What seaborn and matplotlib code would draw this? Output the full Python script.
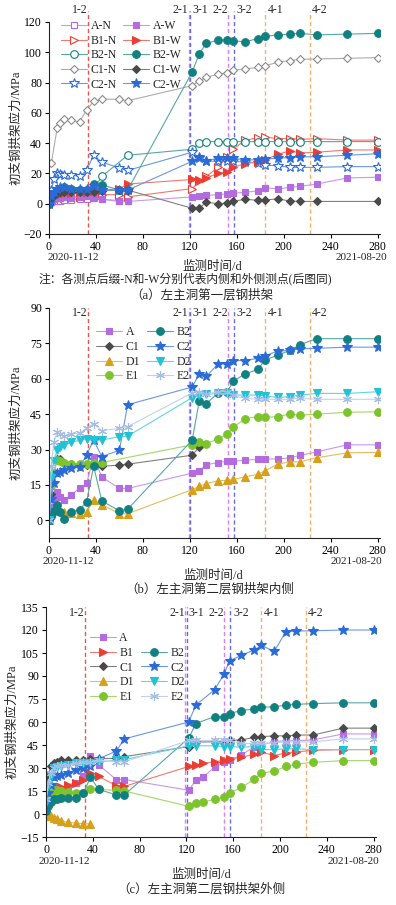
import numpy as np
import pandas as pd
import matplotlib
matplotlib.use('Agg')
import matplotlib.pyplot as plt
import seaborn as sns
from matplotlib.lines import Line2D
from matplotlib.colors import to_rgb

nan = np.nan

# monitoring days (d), shared by all series
days = [0, 2, 4, 7, 9, 13, 19, 26, 32, 38, 45, 60, 67,
        122, 128, 134, 144, 152, 157, 167, 178, 184, 195, 205, 214, 228, 254, 280]

# (a) first layer, -N inner / -W outer
p1_a_n = [0, 1, 1.5, 2, 2, 2.5, 2.5, 3, 3, 3.5, 3, 2, 2] + [nan] * 15
p1_a_w = [0, 2, 3, 4, 4, 4.5, 4, 4.5, 5, 4.5, 3, 1.5, 1.5,
          4.5, 5, 5.5, 6, 6.5, 7, 7.5, 8.5, 10.5, 9.8, 10.8, 11.5, 13, 17, 17.5]
p1_b1_n = [0, 1, 2, 3, 3.5, 4, 4.5, 4.5, 5, 5.5, 6, 6, 4.5,
           10, 15, 18, 24, 31, 36, 42, 43.5, 44, 43, 43, 42.5, 43, 42, 42]
p1_b1_w = [0, 3, 5, 6, 6.5, 7, 7, 7.5, 7.5, 8.5, 9, 10, 13,
           16, 15.5, 17, 20, 21, 24, 26.5, 27.5, 29, 32.5, 35, 33.5, 34, 35.5, 35.5]
p1_b2_n = [2, 5, 7, 8, 8.5, 9, 9, 9, 9, 10, 18, nan, 32,
           36, 40, 41, 41, 41, 41, 41, 41, 41, 41, 41, 41, 41, 41, 41]
p1_b2_w = [0, 4, 6, 9, 10, 11, 9.5, 9, 9, 13, 12.5, 9, 9,
           87, 99, 106, 108, 108, 107.5, 107, 109, 110.5, 111.5, 112, 112.5, 111.5, 112, 112.5]
p1_c1_n = [nan, 27, nan, 50, 53, 56, 55, 54, 62, 67.5, 69, 69, 68,
           78, 81, 83.5, 85.5, 86.5, 88, 89, 90, 91, 93.5, 94.5, 95.3, 95.6, 96, 96.5]
p1_c1_w = [0, 4, 6, 7, 8, 8, 8, 8, 8, 8, 8.5, 9, 9,
           -3, -3, 1, 0, 0.5, 1.5, 3, 2.2, 2.5, 3.2, 1.8, 1.5, 1.5, nan, 1.5]
p1_c2_n = [2, 9, 16, 20, 19.5, 19, 19, 18, 22, 32, 27.5, 23.5, 22,
           34, 30, 28, 28, 28, 28, 27.5, 27, 25.5, 25, 24, 24, 24, 24.5, 24.5]
p1_c2_w = [0, 5, 8, 10, 11, 11, 10, 10, 10, 12, 9, 9, 9,
           28, 31, 28.5, 30, 30, 30, 29, 29, 29.5, 30, 30.5, 31, 31, 32, 33]

# (b) second layer, inner side
p2_a = [0, 5.5, 9, 12, 10, 8.7, 10.8, 13.6, 15.7, 26.7, 18.4, 13.5, 13.5,
        20, 21, 23.5, 24.5, 25, 25, 25.5, 25.8, 26, 26, 26.5, 27.5, 29, 32, 32]
p2_c1 = [0, 11, 20, 26, 25.8, 24.4, 23.8, 22.9, 23.4, 23.8, 22.9, 23.4, 23.8,
         27.6, 31] + [nan] * 13
p2_d1 = [0, 3, 5, 4.5, 4, 3.5, 3, 2.5, 3.5, 8.5, 6.7, 2.8, 2.8,
         13, 14.4, 15.6, 16.7, 17, 17.3, 18.4, 19.5, 21, 23.8, 24.8, 24.8, 26.5, 28.6, 28.8]
p2_e1 = [0, 14.5, 20, 25.5, 25, 24.5, 24, 24, 24, 24.5, 24.5, nan, nan,
         32, 33, 32.5, 34.5, 36.5, 39.5, 43, 44, 43.6, 44, 45, 44.6, 45, 45.8, 46]
p2_b2 = [0, 2, 4, 6.4, 3.5, 0.7, 3.5, 4.5, 7.8, 23, 8.2, 4, 4.7,
         34, 50.5, 49.5, 54, 54.5, 59, 62, 64, 68, 70, 72, 74.5, 77, 77, 77]
p2_c2 = [0, 9, 16, 20, 20.5, 21.5, 22, 22.7, 27.6, 34, 27, 29.7, 49,
         56.5, 62, 61, 66.3, 66.3, 67.7, 67.7, 68.7, 69.7, 71.8, 72, 72.7, 72.9, 73.4, 73.4]
p2_d2 = [0, 18, 25, 30, 31, 32, 33, 34, 34.5, 34, 34, 35.5, 35.7,
         52, 53, 53.4, 53.8, 53.8, 53.1, 53.1, 53.1, 52.7, 52.1, 52.4, 53.1, 53.8, 53.8, 54.5]
p2_e2 = [0, 23, 33, 37.5, 36.5, 35.7, 36.5, 37, 39, 41, 38, 39, 39.7,
         54, 54.5, 53.5, 54.5, 54.5, 53, 51.7, 51.3, 51.3, 51.3, 51.3, 51.7, 51.3, 51.3, 51.3]

# (c) second layer, outer side
p3_a = [5, 10, 14, 18, 16, 14, 17, 20, 25, 38, 32, 22.5, 22.5,
        15.5, 22, 24, 30.5, 34, 35, 38.5, 43.9, 45, 47.2, 47.8, 47.8, 48.3, 52.2, 52.2]
p3_b1 = [3, 9, 13, 16, 17, 17.5, 19, 20.5, 22.5, 26.5, 24.5, 18.5, 18,
         31, 32, 33, 34, 35, 36, 37, 39, 40.5, 38, 40, 40.5, 41.5, 42, 42]
p3_b2 = [2, 5, 8, 9.5, 10, 10.2, 10.7, 10.7, 13.5, 24, 16, 12.5, 12.5,
         49.5, 59, nan, 63.5, 63.5, 65.5, 67.5, 68.5, 69.5, 70, 71, 71.5, 72, 72.5, 72.5]
p3_c1 = [10, 25, 31, 33, 34, 35, 35, 35, 35, 36, 36, 36.3, 37.4,
         44, 47, nan, 47, 47, 48, 48.3, 50, 50.4, 51, 51, 51.5, 51.5, 56, 56]
p3_c2 = [8, 14, 19, 24, 25, 25.5, 27, 29, 30, 31, 36, 41, 49,
         60, 71, nan, 81, 91, 100, 103.5, 107, 110, 106, 119, 119.3, 119.5, 120, 120]
p3_d1 = [1, -1, -1.5, -2.5, -3.5, -4.5, -5.5, -6, -6.3, -6.5] + [nan] * 18
p3_d2 = [8, 18, 25, 30, 30.5, 31, 32, 33, 33.5, 33, 34, 35, 35.5,
         44.5, 44.5, nan, 44.5, 44, 44, 43.5, 44, 42, 42, 42.5, 42.5, 42, 42, 42]
p3_e1 = [8, 12, 14, 15.5, 15.5, 15, 14.5, 13.5, 14, 16.5, 16, 15.5, 15,
         5, 7.4, 7.6, 9.6, 10.9, 13.5, 17.4, 22.6, 26.5, 28, 31, 32.6, 33.7, 34.8, 34.8]
p3_e2 = [10, 20, 27, 30, 31, 32, 32, 33, 34, 34, 35, 34, 34,
         48, 48, nan, 48, 48, 48, 46, 46, 46, 46.5, 47, 47, 47, 49, 49]

# construction stages marked by dashed lines
event_days = [33.5, 119, 120.5, 152.5, 157.5, 184, 222]
event_labels = ['1-2', '2-1', '3-1', '2-2', '3-2', '4-1', '4-2']

colors = {'A': '#b36be0', 'B1': '#ec3d33', 'B2': '#118080', 'C1': '#4a4a4a',
          'C1N': '#8a8a8a', 'C2': '#2a6bd8', 'D1': '#d6a01a', 'D2': '#1fc3d3',
          'E1': '#7cc42c', 'E2': '#a5bde6'}
markers = {'A': 's', 'B1': '>', 'B2': 'o', 'C1': 'D', 'C2': '*',
           'D1': '^', 'D2': 'v', 'E1': 'o', 'E2': (6, 2, 0)}
msizes = {'A': 5, 'B1': 5.5, 'B2': 5.5, 'C1': 4.5, 'C2': 7.5,
          'D1': 5.5, 'D2': 5.5, 'E1': 5.5, 'E2': 6.5}
event_colors = ['#ef5350', '#e47ef0', '#6a6ae8', '#e47ef0', '#6a6ae8', '#f5b26b', '#f5b26b']
label_x = [33, 118.5, 122, 152.5, 160, 186, 224]
label_ha = ['right', 'right', 'left', 'right', 'left', 'left', 'left']

sns.set_style('ticks')
plt.rcParams['font.family'] = ['Liberation Serif', 'Noto Sans CJK SC']
plt.rcParams['axes.linewidth'] = 0.8

W, H = 396, 905
fig = plt.figure(figsize=(W / 100, H / 100), dpi=100)


def lighten(c, f=0.3):
    r, g, b = to_rgb(c)
    return (r + (1 - r) * f, g + (1 - g) * f, b + (1 - b) * f)


def draw(ax, vals, key, label, filled=True, ckey=None):
    c = colors[ckey or key]
    df = pd.DataFrame({'day': days, 'val': vals}).dropna()
    sns.lineplot(data=df, x='day', y='val', ax=ax, color=lighten(c), lw=0.8,
                 marker=markers[key], ms=msizes[key],
                 markerfacecolor=c if filled else 'white',
                 markeredgecolor=c, markeredgewidth=0.8, label=label)


def fpx(x, y, s, size=9, **kw):
    fig.text(x / W, 1 - y / H, s, fontsize=size, ha='center', va='center', **kw)


def frame(ax, ylo, yhi, yticks, ltop, ttop):
    ax.set_xlim(0, 282)
    ax.set_ylim(ylo, yhi)
    ax.set_xticks(range(0, 281, 40))
    ax.set_yticks(yticks)
    ax.set_xlabel('')
    ax.set_ylabel('')
    ax.tick_params(direction='out', length=3, width=0.8, labelsize=8.5, pad=2, colors='black')
    sns.despine(ax=ax)
    for d, c in zip(event_days, event_colors):
        ax.vlines(d, ylo, ltop, colors=c, linestyles=(0, (3, 2)), lw=1.0, clip_on=False, zorder=1)
    for s, x, ha in zip(event_labels, label_x, label_ha):
        ax.text(x, ttop, s, ha=ha, va='center', fontsize=8.5)


def px_axes(l, t, r, b):
    return fig.add_axes([l / W, 1 - b / H, (r - l) / W, (b - t) / H])


# ---- panel (a)
ax1 = px_axes(49, 22, 380, 234)
draw(ax1, p1_a_n, 'A', 'A-N', False)
draw(ax1, p1_b1_n, 'B1', 'B1-N', False)
draw(ax1, p1_b2_n, 'B2', 'B2-N', False)
draw(ax1, p1_c1_n, 'C1', 'C1-N', False, 'C1N')
draw(ax1, p1_c2_n, 'C2', 'C2-N', False)
draw(ax1, p1_a_w, 'A', 'A-W')
draw(ax1, p1_b1_w, 'B1', 'B1-W')
draw(ax1, p1_b2_w, 'B2', 'B2-W')
draw(ax1, p1_c1_w, 'C1', 'C1-W')
draw(ax1, p1_c2_w, 'C2', 'C2-W')
frame(ax1, -20, 120, range(-20, 121, 20), 127, 128)
h, l = ax1.get_legend_handles_labels()
ax1.legend(h, l, ncol=2, loc='upper left', bbox_to_anchor=(0.03, 1.02), frameon=False,
           fontsize=8.5, handlelength=2.2, labelspacing=0.22, columnspacing=0.5,
           handletextpad=0.3, borderaxespad=0, borderpad=0.2)

# ---- panel (b)
ax2 = px_axes(49, 308, 380, 538)
draw(ax2, p2_a, 'A', 'A')
draw(ax2, p2_c1, 'C1', 'C1')
draw(ax2, p2_d1, 'D1', 'D1')
draw(ax2, p2_e1, 'E1', 'E1')
draw(ax2, p2_b2, 'B2', 'B2')
draw(ax2, p2_c2, 'C2', 'C2')
draw(ax2, p2_d2, 'D2', 'D2')
draw(ax2, p2_e2, 'E2', 'E2')
frame(ax2, -7.5, 90, range(0, 91, 15), 90, 88)
h, l = ax2.get_legend_handles_labels()
ax2.legend(h, l, ncol=2, loc='upper left', bbox_to_anchor=(0.135, 0.93), frameon=False,
           fontsize=8.5, handlelength=2.2, labelspacing=0.22, columnspacing=0.6,
           handletextpad=0.3, borderaxespad=0, borderpad=0.2)

# ---- panel (c)
ax3 = px_axes(46, 607, 376, 837)
draw(ax3, p3_a, 'A', 'A')
draw(ax3, p3_b1, 'B1', 'B1')
draw(ax3, p3_c1, 'C1', 'C1')
draw(ax3, p3_d1, 'D1', 'D1')
draw(ax3, p3_e1, 'E1', 'E1')
draw(ax3, p3_b2, 'B2', 'B2')
draw(ax3, p3_c2, 'C2', 'C2')
draw(ax3, p3_d2, 'D2', 'D2')
draw(ax3, p3_e2, 'E2', 'E2')
frame(ax3, -15, 135, range(-15, 136, 15), 135, 131)
h, l = ax3.get_legend_handles_labels()
blank = Line2D([], [], linestyle='none')
h = h[:5] + [blank] + h[5:]
l = l[:5] + [''] + l[5:]
ax3.legend(h, l, ncol=2, loc='upper left', bbox_to_anchor=(0.125, 0.9), frameon=False,
           fontsize=8.5, handlelength=2.2, labelspacing=0.22, columnspacing=0.6,
           handletextpad=0.3, borderaxespad=0, borderpad=0.2)

# ---- texts around the panels
ylab = '初支钢拱架应力/MPa'
fpx(16, 128, ylab, rotation=90)
fpx(16, 423, ylab, rotation=90)
fpx(12, 722, ylab, rotation=90)

fpx(73, 258, '2020-11-12', 8)
fpx(361, 258, '2021-08-20', 8)
fpx(68, 562, '2020-11-12', 8)
fpx(356, 562, '2021-08-20', 8)
fpx(64, 861, '2020-11-12', 8)
fpx(353, 861, '2021-08-20', 8)

fpx(212, 267, '监测时间/d')
fpx(213, 576, '监测时间/d')
fpx(201, 875, '监测时间/d')

fpx(185, 279, '注：各测点后缀-N和-W分别代表内侧和外侧测点(后图同)', 8.5)
fpx(202, 295, '（a）左主洞第一层钢拱架', 9)
fpx(210, 589, '（b）左主洞第二层钢拱架内侧', 9)
fpx(201, 889, '（c）左主洞第二层钢拱架外侧', 9)

fig.savefig('out.png', dpi=100)
